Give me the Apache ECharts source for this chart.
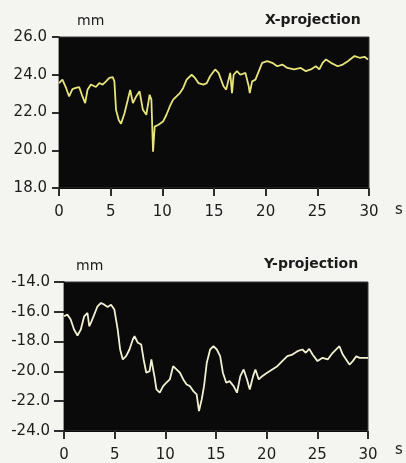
<!DOCTYPE html>
<html>
<head>
<meta charset="utf-8">
<script src="https://cdn.jsdelivr.net/npm/echarts@6/dist/echarts.min.js"></script>
<style>
html,body{margin:0;padding:0;background:#f4f4f1;}
#top{width:406px;height:232px;}
#bot{width:406px;height:231px;}
</style>
</head>
<body>
<div id="top"></div>
<div id="bot"></div>
<script>
// X-projection trace (time in s, position in mm)
const xTimes = [0.0,0.33,0.65,0.98,1.3,1.62,1.95,2.27,2.53,2.76,3.09,3.57,3.9,4.22,4.55,4.87,5.2,5.36,5.52,5.78,6.0,6.34,6.66,6.89,7.15,7.47,7.8,8.12,8.45,8.77,8.94,9.1,9.26,9.59,10.07,10.4,10.72,11.05,11.37,11.7,12.02,12.35,12.84,13.16,13.49,13.97,14.3,14.62,15.11,15.44,15.92,16.18,16.41,16.57,16.74,16.9,17.22,17.55,18.04,18.36,18.46,18.69,19.01,19.34,19.66,20.15,20.64,21.12,21.61,22.1,22.75,23.4,23.89,24.37,24.86,25.19,25.51,25.84,26.32,26.97,27.46,27.95,28.6,29.09,29.57,29.9];
const xValues = [23.56,23.74,23.35,22.85,23.24,23.3,23.35,22.85,22.5,23.2,23.48,23.35,23.56,23.48,23.65,23.83,23.88,23.65,22.14,21.6,21.4,21.96,22.68,23.2,22.5,22.85,23.12,22.14,21.88,22.94,22.68,19.92,21.25,21.34,21.52,21.88,22.32,22.68,22.85,23.03,23.3,23.74,24.0,23.83,23.56,23.48,23.56,23.92,24.28,24.1,23.39,23.21,23.74,24.1,23.03,24.0,24.19,24.0,24.1,23.39,23.03,23.65,23.74,24.19,24.63,24.72,24.63,24.45,24.54,24.36,24.28,24.36,24.19,24.28,24.45,24.28,24.63,24.81,24.63,24.45,24.54,24.72,24.99,24.9,24.95,24.81];
// Y-projection trace
const yTimes = [0,0.33,0.66,0.99,1.33,1.66,1.99,2.32,2.49,2.65,2.98,3.31,3.65,3.98,4.31,4.64,4.97,5.3,5.54,5.8,6.13,6.46,6.79,6.96,7.29,7.62,7.86,8.12,8.45,8.62,8.78,8.95,9.12,9.45,9.78,10.11,10.44,10.77,11.1,11.44,11.77,12.1,12.43,12.76,13.09,13.32,13.59,13.82,14.09,14.42,14.75,15.08,15.41,15.68,16.01,16.34,16.74,17.07,17.4,17.73,18.06,18.33,18.66,18.89,19.22,19.56,20.05,20.55,21.05,21.54,22.04,22.54,23.04,23.53,23.86,24.2,24.53,25.02,25.52,26.02,26.52,27.18,27.51,27.84,28.17,28.5,28.84,29.17,29.5,30.0];
const yValues = [-16.3,-16.19,-16.52,-17.19,-17.59,-17.19,-16.3,-16.08,-16.97,-16.75,-16.19,-15.63,-15.41,-15.52,-15.67,-15.52,-15.85,-17.19,-18.53,-19.2,-18.98,-18.53,-17.86,-17.64,-18.08,-18.2,-19.2,-20.09,-19.98,-19.2,-19.31,-20.43,-21.21,-21.43,-20.99,-20.76,-20.54,-19.65,-19.87,-20.09,-20.54,-20.88,-20.99,-21.32,-21.54,-22.66,-21.88,-20.99,-19.42,-18.53,-18.31,-18.53,-18.98,-20.09,-20.76,-20.65,-20.99,-21.43,-20.32,-19.87,-20.54,-21.21,-20.32,-19.87,-20.54,-20.32,-20.09,-19.87,-19.65,-19.31,-18.98,-18.87,-18.64,-18.53,-18.75,-18.49,-18.87,-19.31,-19.09,-19.2,-18.75,-18.31,-18.87,-19.2,-19.54,-19.31,-18.98,-19.09,-19.09,-19.09];

const xTicks = [0,5,10,15,20,25,30];
const xRange = [18,26];
const yRange = [-24,-14];
const titles = ['X-projection','Y-projection'];
const unitY = 'mm';
const unitX = 's';

const font = 'DejaVu Sans';
const txt = '#1c1c1c';
const plotBg = '#0a0a0a';
const tickColor = '#2e2e2e';

function pairs(ts, vs){ return ts.map((t,i)=>[t,vs[i]]); }

function panel(el, o){
  const chart = echarts.init(el);
  chart.setOption({
    animation:false,
    title:[
      {text:o.title, left:o.titleLeft - 5, top:o.titleTop - 5,
        textStyle:{fontFamily:font,fontSize:14,fontWeight:'bold',color:'#1a1a1a'}},
      {text:unitY, left:o.mmLeft, top:o.mmTop,
        textStyle:{fontFamily:font,fontSize:14,fontWeight:'normal',color:txt}},
      {text:unitX, left:390, top:o.sTop,
        textStyle:{fontFamily:font,fontSize:15,fontWeight:'normal',color:txt}}
    ],
    grid:Object.assign({show:true, backgroundColor:plotBg, borderColor:'#3a3a3a', borderWidth:1}, o.grid),
    xAxis:{
      type:'value', min:xTicks[0], max:xTicks[xTicks.length-1], interval:5,
      axisLine:{show:true,lineStyle:{color:plotBg,width:1}},
      axisTick:{show:true,length:8,lineStyle:{color:tickColor,width:2}},
      axisLabel:{fontFamily:font,fontSize:15,color:txt,margin:17},
      splitLine:{show:false}
    },
    yAxis:{
      type:'value', min:o.range[0], max:o.range[1], interval:2,
      axisLine:{show:true,lineStyle:{color:plotBg,width:1}},
      axisTick:{show:true,length:o.tickLen,lineStyle:{color:tickColor,width:2}},
      axisLabel:{fontFamily:font,fontSize:15,color:txt,margin:o.margin,formatter:v=>v.toFixed(1)},
      splitLine:{show:false}
    },
    series:[{type:'line', data:o.data, showSymbol:false, lineStyle:{color:o.color, width:1.8}}]
  });
}

panel(document.getElementById('top'), {
  title:titles[0], titleLeft:265, titleTop:13,
  mmLeft:72, mmTop:9, sTop:198,
  grid:{left:59, top:37, width:310, height:151},
  range:xRange, tickLen:7, margin:12,
  data:pairs(xTimes,xValues), color:'#e8e47c'
});
panel(document.getElementById('bot'), {
  title:titles[1], titleLeft:264, titleTop:25,
  mmLeft:71, mmTop:22, sTop:206,
  grid:{left:64, top:50, width:304, height:150},
  range:yRange, tickLen:10, margin:14,
  data:pairs(yTimes,yValues), color:'#f2f0d2'
});
</script>
</body>
</html>
